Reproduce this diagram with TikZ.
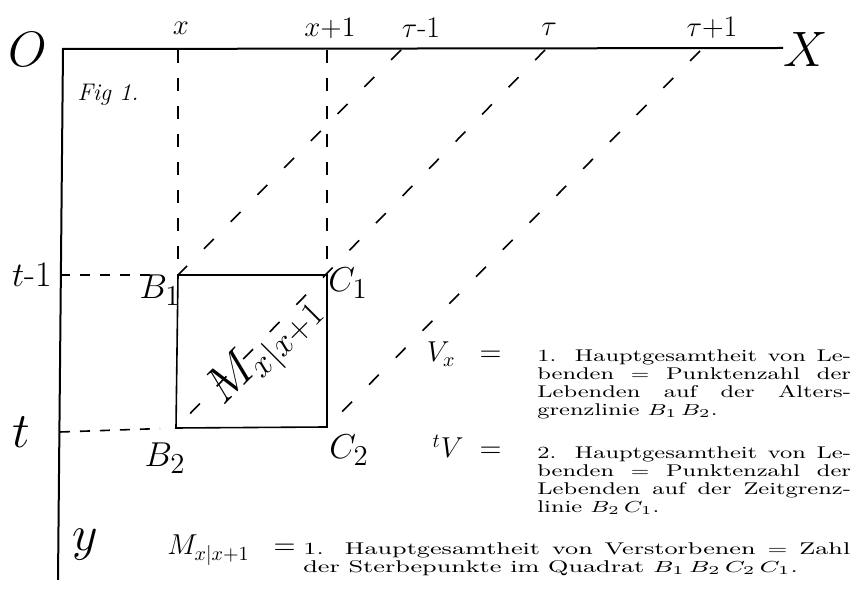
\documentclass[tikz,border=0pt]{standalone}
\usepackage{amsmath,amssymb}
\usepackage{graphicx}
\usepackage{tikz}
\hyphenpenalty=10000
% breit gesetzter Erklaerungstext
\newcommand{\legpar}[3][1.4]{\scalebox{#1}[1]{\parbox[t]{#2}{#3}}}

\begin{document}
\begin{tikzpicture}[x=0.5pt,y=-0.5pt,
    hand/.style={font=\fontsize{#1}{#1}\selectfont,inner sep=0pt},
    gridline/.style={dash pattern=on 6.5pt off 7.5pt,line width=0.8pt},
    lifeline/.style={dash pattern=on 7pt off 12pt,line width=0.8pt},
    legend/.style={anchor=north west,inner sep=0pt,font=\fontsize{8.5}{9}\selectfont},
    eqlab/.style={anchor=base east,inner sep=0pt,font=\fontsize{14}{14}\selectfont}]
  \useasboundingbox (0,0) rectangle (853,608);
  % Achsen
  \coordinate (O) at (63,49);
  \coordinate (Xe) at (783,48);
  \coordinate (Ye) at (58,580);
  \draw[line width=1pt] (Xe) -- (O) -- (Ye);
  \node[hand=28] (lO) at (28,50) {$O$};
  \node[hand=30] (lX) at (806,50) {$X$};
  \node[hand=30] (ly) at (85,545) {$y$};
  \node[hand=12] (fig) at (108,95) {\itshape Fig 1.};
  % Quadrat
  \coordinate (B1) at (178,275);
  \coordinate (C1) at (327,275);
  \coordinate (C2) at (327,427);
  \coordinate (B2) at (176,428);
  \draw[line width=0.8pt] (B1) -- (C1) -- (C2) -- (B2) -- cycle;
  \node[hand=19] (lB1) at (160,290) {$B_1$};
  \node[hand=19] (lC1) at (348,283) {$C_1$};
  \node[hand=19] (lB2) at (165,458) {$B_2$};
  \node[hand=19] (lC2) at (349,450) {$C_2$};
  % Alters- und Zeitgrenzen
  \coordinate (ax) at (178,50);
  \coordinate (ax1) at (327,50);
  \coordinate (lt1) at (60,275);
  \coordinate (lt) at (60,432);
  \draw[gridline] (ax) -- (B1);
  \draw[gridline] (ax1) -- (C1);
  \draw[gridline,dash pattern=on 5pt off 5pt,shorten >=14pt] (lt1) -- (B1);
  \draw[gridline,dash pattern=on 5pt off 5pt,shorten >=8pt] (lt) -- (B2);
  \node[hand=14] (lx) at (181,28) {$x$};
  \node[hand=14] (lx1) at (330,28) {$x$+1};
  \node[hand=18] (lt1l) at (32,275) {$t$-1};
  \node[hand=24] (ltl) at (21,432) {$t$};
  % Lebenslinien
  \coordinate (tm) at (401,50);
  \coordinate (tt) at (545,50);
  \coordinate (tp) at (700,51);
  \foreach \a/\b in {tm/B1,tt/B2,tp/C2}
    \draw[lifeline] (\a) -- (\b);
  \node[hand=15] (ltm) at (421,28) {$\tau$-1};
  \node[hand=15] (ltt) at (549,29) {$\tau$};
  \node[hand=15] (ltp) at (712,28) {$\tau$+1};
  \node[hand=23,rotate=45] (lM) at (266,352) {$M_{x|x+1}$};
  % Erklaerungen
  \node[eqlab] (vx) at (502,362) {$V_x\;\;=$};
  \node[legend] (vxtext) at (537,349)
    {\legpar{112pt}{1. Hauptgesamtheit von Le-\linebreak benden $=$ Punktenzahl der\linebreak
     Lebenden auf der Alters-\linebreak grenzlinie $B_1\,B_2$.}};
  \node[eqlab] (tv) at (502,458) {${}^{t}V\;=$};
  \node[legend] (tvtext) at (537,446)
    {\legpar{112pt}{2. Hauptgesamtheit von Le-\linebreak benden $=$ Punktenzahl der\linebreak
     Lebenden auf der Zeitgrenz-\linebreak linie $B_2\,C_1$.}};
  \node[eqlab] (mx) at (296,555) {$M_{x|x+1}\;\;=$};
  \node[legend] (mxtext) at (303,542)
    {\legpar[1.5]{182.3pt}{1. Hauptgesamtheit von Verstorbenen $=$ Zahl\linebreak
     der Sterbepunkte im Quadrat $B_1\,B_2\,C_2\,C_1$.}};
\end{tikzpicture}
\end{document}
